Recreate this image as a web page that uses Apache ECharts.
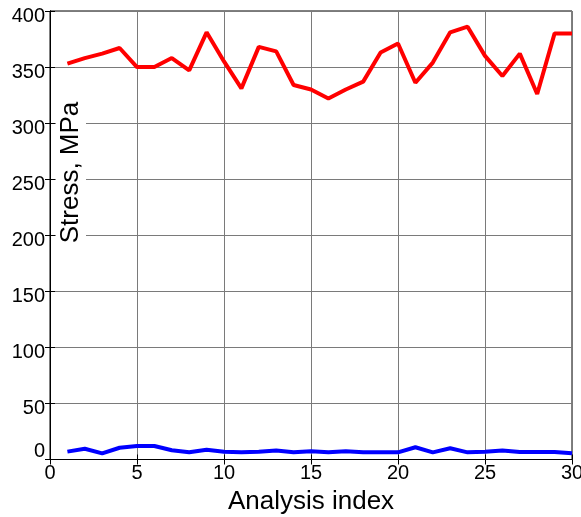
<!DOCTYPE html>
<html>
<head>
<meta charset="utf-8">
<script src="https://cdn.jsdelivr.net/npm/echarts@6/dist/echarts.min.js"></script>
<style>
html,body{margin:0;padding:0;background:#fff;}
#chart{width:581px;height:517px;}
</style>
</head>
<body>
<div id="chart"></div>
<script>
const analysisIndex = [1,2,3,4,5,6,7,8,9,10,11,12,13,14,15,16,17,18,19,20,21,22,23,24,25,26,27,28,29,30];
const redStress = [353,358,362,367,350,350,358,347,381,355,331,368,364,334,330,322,330,337,363,371,336,354,381,386,360,342,362,326,380,380];
const blueStress = [7,9.6,5.5,10.5,12,12,8.2,6.4,8.7,7,6.4,7,8,6.4,7.3,6.4,7.3,6.4,6.4,6.4,10.9,6.4,10,6.4,7,8,6.7,6.7,6.7,5.5];
const xTicks = [0,5,10,15,20,25,30];
const yTicks = [0,50,100,150,200,250,300,350,400];

const FONT = 'Liberation Sans, Arial, sans-serif';
const chart = echarts.init(document.getElementById('chart'), null, {renderer:'canvas'});

const pairs = arr => analysisIndex.map((x, i) => [x, arr[i]]);

chart.setOption({
  animation: false,
  backgroundColor: '#fff',
  grid: {left: 50, right: 9, top: 11, bottom: 57.5, show: true, borderColor: '#000', borderWidth: 1,
         containLabel: false, outerBoundsMode: 'none'},
  xAxis: [{
    type: 'value', min: xTicks[0], max: xTicks[xTicks.length-1], interval: 5,
    axisLine: {show: true, lineStyle: {color: '#000', width: 1}},
    axisTick: {show: true, inside: true, length: 5, lineStyle: {color: '#000'}},
    axisLabel: {color: '#000', fontSize: 20, fontFamily: FONT, margin: 4},
    splitLine: {show: true, lineStyle: {color: '#7a7a7a', width: 1}},
    name: 'Analysis index', nameLocation: 'middle', nameGap: 25,
    nameTextStyle: {color: '#000', fontSize: 26, fontFamily: FONT}
  }, {
    type: 'value', min: 0, max: 30, interval: 5, position: 'top',
    axisLine: {show: true, lineStyle: {color: '#000'}},
    axisTick: {show: true, inside: true, length: 5, lineStyle: {color: '#000'}},
    axisLabel: {show: false}, splitLine: {show: false}
  }],
  yAxis: [{
    type: 'value', min: yTicks[0], max: yTicks[yTicks.length-1], interval: 50,
    axisLine: {show: true, lineStyle: {color: '#000', width: 1}},
    axisTick: {show: true, inside: true, length: 5, lineStyle: {color: '#000'}},
    axisLabel: {
      color: '#000', fontSize: 20, fontFamily: FONT, margin: 5,
      formatter: v => v === 0 ? '{z|0}' : '{a|' + v + '}',
      rich: {
        a: {fontSize: 20, fontFamily: FONT, color: '#000', padding: [10,0,0,0]},
        z: {fontSize: 20, fontFamily: FONT, color: '#000', padding: [0,0,17,0]}
      }
    },
    splitLine: {show: true, lineStyle: {color: '#7a7a7a', width: 1}}
  }, {
    type: 'value', min: 0, max: 400, interval: 50, position: 'right',
    axisLine: {show: true, lineStyle: {color: '#000'}},
    axisTick: {show: true, inside: true, length: 5, lineStyle: {color: '#000'}},
    axisLabel: {show: false}, splitLine: {show: false}
  }],
  graphic: [{
    type: 'text', x: 71, y: 172.5, rotation: Math.PI / 2, z: 100,
    style: {
      text: 'Stress, MPa', font: '26px ' + FONT, fill: '#000',
      textAlign: 'center', textVerticalAlign: 'middle',
      backgroundColor: '#fff', padding: [2, 4]
    }
  }],
  series: [{
    type: 'line', data: pairs(redStress), showSymbol: false, symbol: 'none',
    lineStyle: {color: '#ff0000', width: 4}, itemStyle: {color: '#ff0000'}, z: 5
  }, {
    type: 'line', data: pairs(blueStress), showSymbol: false, symbol: 'none',
    lineStyle: {color: '#0000ff', width: 4}, itemStyle: {color: '#0000ff'}, z: 5
  }]
});
</script>
</body>
</html>
